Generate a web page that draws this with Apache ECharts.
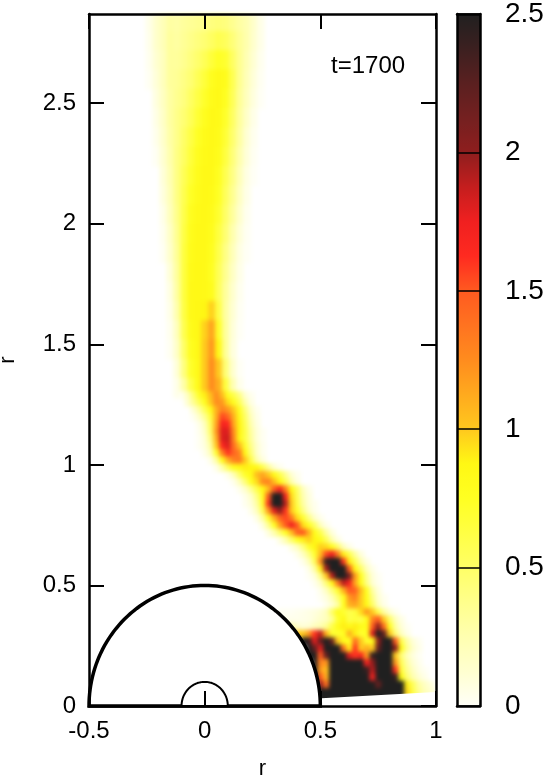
<!DOCTYPE html>
<html>
<head>
<meta charset="utf-8">
<style>
  html, body { margin: 0; background: #fff; }
  #main { width: 554px; height: 779px; }
</style>
<script src="https://cdn.jsdelivr.net/npm/echarts@6/dist/echarts.min.js"></script>
</head>
<body>
<div id="main"></div>
<script>
const xTicks = [-0.5, 0, 0.5, 1];
const yTicks = [0, 0.5, 1, 1.5, 2, 2.5];
const barTicks = [0, 0.5, 1, 1.5, 2, 2.5];
const BLACK = 3; // above the colour bar range, drawn solid black

// upper plume: one row per y, one column per plumeX
const plumeX = [-0.27, -0.24, -0.21, -0.18, -0.15, -0.12, -0.09, -0.06, -0.03, 0, 0.03, 0.06, 0.09, 0.12, 0.15, 0.18, 0.21, 0.24, 0.27];
const plumeY = [2.84, 2.76, 2.68, 2.6, 2.52, 2.44, 2.36, 2.28, 2.2, 2.12, 2.04, 1.96, 1.88, 1.8, 1.72, 1.64, 1.56, 1.48, 1.4, 1.32];
const plumeValues = [
  [0, .05, .14, .22, .3, .28, .32, .34, .36, .38, .42, .44, .42, .36, .3, .25, .15, .05, 0],
  [0, .04, .14, .22, .32, .3, .34, .38, .42, .46, .52, .58, .54, .44, .34, .26, .14, .05, 0],
  [0, .03, .12, .2, .32, .32, .36, .42, .48, .56, .66, .74, .7, .52, .36, .24, .12, .03, 0],
  [0, .02, .1, .2, .32, .34, .4, .46, .56, .66, .78, .84, .8, .58, .36, .22, .1, .02, 0],
  [0, 0, .08, .18, .3, .36, .42, .52, .62, .72, .82, .85, .76, .56, .34, .2, .08, .01, 0],
  [0, 0, .06, .16, .3, .38, .46, .56, .68, .78, .85, .84, .72, .52, .32, .16, .05, 0, 0],
  [0, 0, .04, .14, .28, .38, .5, .62, .74, .82, .85, .82, .68, .48, .3, .12, .03, 0, 0],
  [0, 0, .02, .12, .26, .4, .52, .66, .78, .84, .85, .8, .64, .44, .26, .1, .02, 0, 0],
  [0, 0, 0, .1, .24, .4, .56, .7, .8, .85, .85, .76, .58, .4, .22, .07, .01, 0, 0],
  [0, 0, 0, .08, .22, .4, .58, .74, .82, .85, .84, .74, .54, .36, .18, .05, 0, 0, 0],
  [0, 0, 0, .05, .2, .38, .6, .78, .84, .85, .82, .7, .5, .32, .14, .03, 0, 0, 0],
  [0, 0, 0, .03, .16, .36, .62, .8, .85, .85, .8, .64, .46, .26, .1, .02, 0, 0, 0],
  [0, 0, 0, .02, .14, .34, .64, .82, .85, .85, .78, .6, .4, .22, .07, .01, 0, 0, 0],
  [0, 0, 0, 0, .1, .32, .64, .84, .86, .85, .76, .56, .36, .18, .05, 0, 0, 0, 0],
  [0, 0, 0, 0, .07, .3, .64, .85, .86, .85, .8, .54, .32, .14, .03, 0, 0, 0, 0],
  [0, 0, 0, 0, .05, .26, .62, .85, .87, .88, .98, .62, .3, .12, .02, 0, 0, 0, 0],
  [0, 0, 0, 0, .03, .2, .58, .82, .87, .98, 1.15, .72, .32, .1, .01, 0, 0, 0, 0],
  [0, 0, 0, 0, .02, .16, .5, .78, .86, 1, 1.2, .85, .34, .08, 0, 0, 0, 0, 0],
  [0, 0, 0, 0, 0, .1, .42, .72, .84, 1, 1.25, 1, .45, .14, .01, 0, 0, 0, 0],
  [0, 0, 0, 0, 0, .05, .28, .6, .82, 1, 1.25, 1.1, .65, .25, .04, 0, 0, 0, 0]
];

// lower jet: one row per y, each row starts at jetStart and steps by the cell width
const B = BLACK;
const jetY = [1.29, 1.26, 1.23, 1.2, 1.17, 1.14, 1.11, 1.08, 1.05, 1.02, .99, .96, .93, .9, .87, .84, .81, .78, .75, .72, .69, .66, .63, .6, .57, .54, .51, .48, .45, .42, .39, .36, .33, .3, .27, .24, .21, .18, .15, .12, .09, .06, .03];
const jetStart = [-.1, -.075, -.05, -.05, -.025, -.025, -.025, -.025, 0, .025, .05, .1, .125, .15, .175, .175, .2, .225, .25, .275, .325, .375, .4, .425, .45, .45, .475, .5, .5, .525, .325, .35, .375, .4, .425, .45, .45, .475, .475, .475, .5, .5, .5];
const jetValues = [
  [.03, .18, .45, .72, .9, 1.05, 1.25, 1.05, .75, .6, .4, .12, .03],
  [.12, .35, .55, .78, 1, 1.25, 1.2, .95, .78, .55, .25, .06],
  [.12, .3, .55, .82, 1.1, 1.3, 1.2, 1, .75, .42, .14, .03],
  [.03, .15, .35, .65, 1.1, 1.55, 1.45, 1.1, .82, .5, .2, .05],
  [.05, .2, .55, 1.15, 1.7, 1.65, 1.15, .88, .55, .25, .07],
  [.03, .15, .5, 1.2, 1.8, 1.8, 1.25, .88, .6, .3, .1, .02],
  [.02, .1, .4, 1.1, 1.8, 1.85, 1.3, .85, .6, .32, .1, .02],
  [.02, .08, .3, 1, 1.65, 1.8, 1.4, 1.05, .7, .38, .14, .03],
  [.05, .2, .7, 1.3, 1.6, 1.45, 1.3, .85, .45, .15, .03],
  [.05, .3, .8, 1.1, 1.3, 1.35, 1, .6, .25, .08],
  [.05, .25, .55, .78, .85, .9, .88, .85, .6, .35, .12, .03],
  [.05, .22, .48, .72, .85, 1.05, 1.15, 1, .85, .6, .35, .12, .03],
  [.04, .2, .45, .75, .95, 1.25, 1.3, 1.05, .85, .55, .25, .07],
  [.04, .15, .35, .6, .85, 1.05, 1.5, 1.7, 1.3, .85, .5, .2, .05],
  [.05, .15, .4, .75, 1.5, B, 2.6, 1.7, .95, .55, .25, .08],
  [.03, .1, .3, .7, 1.6, 2.6, B, 1.9, 1, .6, .3, .1, .03],
  [.05, .2, .55, 1.2, 1.8, 2, 1.6, 1, .7, .4, .15, .04],
  [.06, .28, .7, 1.1, 1.45, 1.55, 1.35, .95, .7, .4, .15, .04],
  [.08, .35, .75, 1.15, 1.5, 1.75, 1.5, .95, .75, .5, .2, .05],
  [.08, .25, .5, .75, 1.05, 1.45, 1.5, 1.1, .8, .6, .3, .08],
  [.08, .25, .5, .75, .9, .98, .88, .78, .55, .25, .07],
  [.08, .2, .42, .7, .88, .98, .95, .78, .5, .2, .05],
  [.05, .18, .4, .7, 1.05, 1.55, 1.75, 1.35, .9, .6, .3, .08],
  [.05, .2, .55, 1.25, 2.4, B, 2.7, 1.6, .9, .55, .25, .07],
  [.06, .3, .9, 1.95, B, B, 2.6, 1.5, .85, .5, .2, .05],
  [.02, .1, .4, 1, 1.9, 2.8, B, 2.1, 1.2, .75, .35, .1, .02],
  [.03, .15, .45, .85, 1.35, 1.9, 1.7, 1.15, .8, .4, .12, .03],
  [.05, .18, .42, .7, 1.1, 1.5, 1.45, 1.05, .75, .3, .08],
  [.02, .08, .22, .45, .75, 1.2, 1.3, 1, .8, .4, .12, .03],
  [.04, .12, .3, .75, 1.1, 1.15, 1, .85, .5, .18, .05],
  [.02, .02, .02, .03, .04, .06, .08, .12, .2, .5, .8, .7, .6, .65, .95, 1.2, 1, .6, .3, .12, .03],
  [.04, .04, .04, .05, .06, .1, .15, .2, .35, .7, .85, .6, .65, .6, .8, 1.3, 1.5, 1, .5, .2, .06],
  [.25, .15, .1, .12, .2, .25, .35, .6, .8, .9, .85, .9, .8, .8, 1.5, 2, 1.4, .75, .3, .1, .02],
  [1, 1, 1.2, 1.6, 1.9, 1.1, .7, .7, .75, 1.1, .9, .7, .75, 1.8, B, 2.2, 1, .45, .18, .05],
  [B, 2.4, 1.8, 2.2, B, 2.2, 1, .8, .75, 1.4, 1, .7, .8, 2, B, B, 1.5, .6, .28, .1, .03],
  [B, 2.2, 1.8, B, B, B, 1.4, .9, 1.6, 1, 1.1, 1, 2.2, B, B, 2, .8, .35, .14, .05],
  [B, B, 1.5, 2.2, B, B, B, 1.8, 1.6, 1.7, 1.2, 2.4, B, B, 2.6, 1, .45, .2, .08, .02],
  [B, 1.3, 1.2, B, B, B, B, B, B, 1.7, 2, B, B, B, 1.2, .55, .28, .12, .04],
  [B, 1.2, 1.05, B, B, B, B, B, B, 2.4, 1.9, B, B, B, 1.6, .65, .35, .18, .07, .02],
  [B, 1.5, 1.1, B, B, B, B, B, B, B, 1.7, B, B, B, 2.4, .85, .45, .25, .12, .05],
  [2, 1.4, B, B, B, B, B, B, B, B, 2.2, B, B, B, B, .9, .55, .3, .18, .1],
  [B, B, B, B, B, B, B, B, B, B, B, B, B, B, B, .95, .6, .35, .22, .14, .07],
  [B, B, B, B, B, B, B, B, B, B, B, B, B, B, B, .95, .6, .35, .22, .14, .07]
];

const barColors = ['#fffff8', '#ffffd0', '#ffffb0', '#ffff8c', '#ffff66', '#ffff44', '#ffff22', '#fff814', '#ffc81e', '#ffaa1e', '#ff8c1e', '#ff7320', '#ff5a20', '#ff2a20', '#f02020', '#c41e1e', '#8e1e1e', '#742020', '#5a2020', '#3c2020', '#202020'];

const wedgeMask = [[0.505, 0], [1, 0], [1, 0.058], [0.505, 0.032]];
const circleRadii = [0.5, 0.1];

const plumeData = [];
plumeY.forEach((y, i) => plumeValues[i].forEach((v, j) => {
  if (v > 0) plumeData.push([plumeX[j], y, v]);
}));
const jetData = [];
jetY.forEach((y, i) => jetValues[i].forEach((v, j) => {
  jetData.push([jetStart[i] + j * 0.025, y, v]);
}));

function cellRenderer(w, h) {
  return (params, api) => {
    const x = api.value(0), y = api.value(1);
    const a = api.coord([x - w / 2, y + h / 2]);
    const b = api.coord([x + w / 2, y - h / 2]);
    return {
      type: 'rect',
      shape: { x: a[0], y: a[1], width: b[0] - a[0] + 1, height: b[1] - a[1] + 1 },
      style: { fill: api.visual('color') }
    };
  };
}

function renderCircle(params, api) {
  const r = api.value(0);
  const points = [];
  for (let i = 0; i <= 90; i++) {
    const t = Math.PI * i / 90;
    points.push(api.coord([r * Math.cos(t), r * Math.sin(t)]));
  }
  return {
    type: 'polygon',
    shape: { points },
    style: { fill: '#fff', stroke: '#000', lineWidth: r > 0.2 ? 3.5 : 2 }
  };
}

function renderWedge(params, api) {
  if (params.dataIndex !== 0) return;
  return {
    type: 'polygon',
    shape: { points: wedgeMask.map(p => api.coord(p)) },
    style: { fill: '#fff' }
  };
}

const font = 'Liberation Sans';
const frame = { show: true, onZero: false, lineStyle: { color: '#000', width: 2.5 } };
const ticks = { show: true, inside: true, length: 15, lineStyle: { color: '#000', width: 2 } };

const chart = echarts.init(document.getElementById('main'));
chart.setOption({
  animation: false,
  grid: [
    { left: 89, top: 14, width: 347, height: 692, outerBoundsMode: 'none' },
    { left: 457, top: 14, width: 23, height: 692, outerBoundsMode: 'none' }
  ],
  title: {
    text: 't=1700', left: 331, top: 54, padding: 0, zlevel: 1,
    textStyle: { fontFamily: font, fontSize: 24, fontWeight: 'normal', color: '#000' }
  },
  visualMap: {
    type: 'continuous', seriesIndex: [0, 1], dimension: 2, min: 0, max: 2.5,
    left: 457, top: 14, itemWidth: 23, itemHeight: 692, padding: 0,
    calculable: false, show: true, text: null, showLabel: false, zlevel: 1, z: 1,
    inRange: { color: barColors },
    outOfRange: { color: ['#000'] }
  },
  xAxis: [
    {
      type: 'value', gridIndex: 0, min: -0.5, max: 1, position: 'bottom', zlevel: 1, z: 10,
      name: 'r', nameLocation: 'middle', nameGap: 52,
      nameTextStyle: { fontFamily: font, fontSize: 22, color: '#000' },
      axisLine: frame,
      axisTick: { ...ticks, customValues: xTicks },
      axisLabel: { customValues: xTicks, fontFamily: font, fontSize: 24, color: '#000', margin: 13, formatter: v => String(v) },
      splitLine: { show: false }
    },
    {
      type: 'value', gridIndex: 0, min: -0.5, max: 1, position: 'top', zlevel: 1, z: 10,
      axisLine: frame,
      axisTick: { ...ticks, customValues: xTicks },
      axisLabel: { show: false }, splitLine: { show: false }
    },
    {
      type: 'value', gridIndex: 1, min: 0, max: 1, position: 'bottom', zlevel: 1, z: 10,
      axisLine: frame, axisTick: { show: false }, axisLabel: { show: false }, splitLine: { show: false }
    },
    {
      type: 'value', gridIndex: 1, min: 0, max: 1, position: 'top', zlevel: 1, z: 10,
      axisLine: frame, axisTick: { show: false }, axisLabel: { show: false }, splitLine: { show: false }
    }
  ],
  yAxis: [
    {
      type: 'value', gridIndex: 0, min: 0, max: 2.87, position: 'left', zlevel: 1, z: 10,
      name: 'r', nameLocation: 'middle', nameGap: 70, nameRotate: 90,
      nameTextStyle: { fontFamily: font, fontSize: 22, color: '#000' },
      axisLine: frame,
      axisTick: { ...ticks, customValues: yTicks },
      axisLabel: { customValues: yTicks, fontFamily: font, fontSize: 24, color: '#000', margin: 13, formatter: v => String(v) },
      splitLine: { show: false }
    },
    {
      type: 'value', gridIndex: 0, min: 0, max: 2.87, position: 'right', zlevel: 1, z: 10,
      axisLine: frame,
      axisTick: { ...ticks, customValues: yTicks },
      axisLabel: { show: false }, splitLine: { show: false }
    },
    {
      type: 'value', gridIndex: 1, min: 0, max: 2.5, position: 'right', zlevel: 1, z: 10,
      axisLine: frame,
      axisTick: { show: true, inside: true, length: 23, customValues: barTicks, lineStyle: { color: '#000', width: 1.5 } },
      axisLabel: { customValues: barTicks, fontFamily: font, fontSize: 28, color: '#000', margin: 25, formatter: v => String(v) },
      splitLine: { show: false }
    },
    {
      type: 'value', gridIndex: 1, min: 0, max: 2.5, position: 'left', zlevel: 1, z: 10,
      axisLine: frame, axisTick: { show: false }, axisLabel: { show: false }, splitLine: { show: false }
    }
  ],
  series: [
    {
      type: 'custom', xAxisIndex: 0, yAxisIndex: 0, zlevel: 0, clip: true,
      encode: { x: 0, y: 1 }, data: plumeData, renderItem: cellRenderer(0.03, 0.08)
    },
    {
      type: 'custom', xAxisIndex: 0, yAxisIndex: 0, zlevel: 0, clip: true,
      encode: { x: 0, y: 1 }, data: jetData, renderItem: cellRenderer(0.025, 0.03)
    },
    {
      type: 'custom', xAxisIndex: 0, yAxisIndex: 0, zlevel: 1, z: 2, clip: false,
      encode: { x: 0, y: 1 }, data: wedgeMask, renderItem: renderWedge
    },
    {
      type: 'custom', xAxisIndex: 0, yAxisIndex: 0, zlevel: 1, z: 3, clip: false,
      encode: { x: -1, y: -1 }, data: circleRadii.map(r => [r]), renderItem: renderCircle
    }
  ]
});

// soften the cell edges of the density layer only (zlevel 0 is the first canvas)
const layers = chart.getDom().querySelectorAll('canvas');
if (layers.length > 1) layers[0].style.filter = 'blur(2px)';
</script>
</body>
</html>
